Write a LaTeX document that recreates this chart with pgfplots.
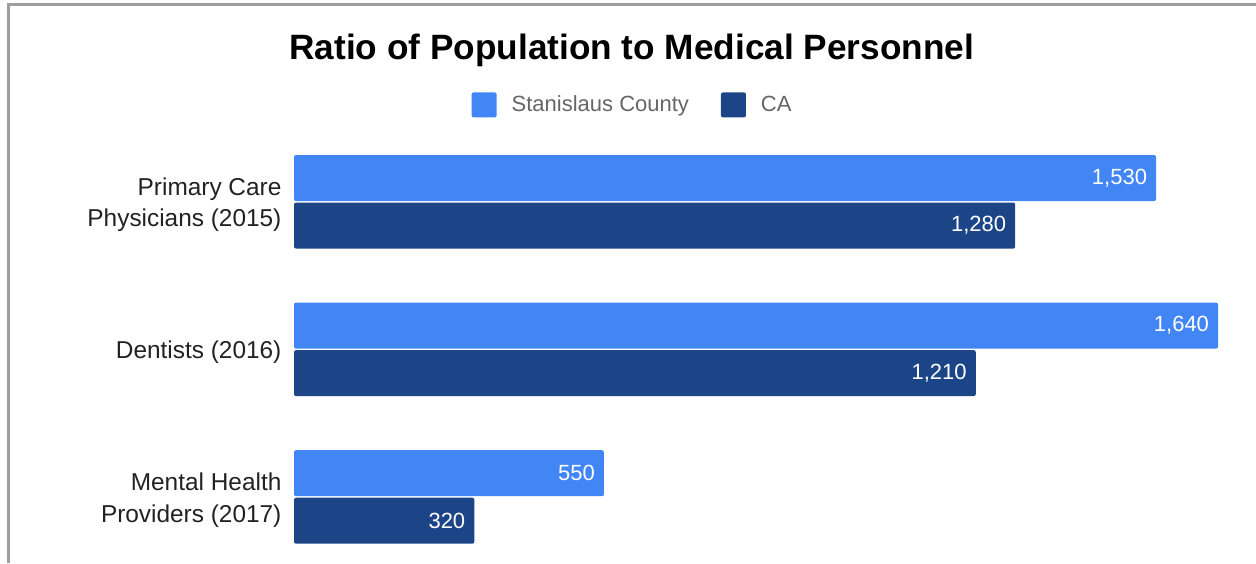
\documentclass[border=0pt]{standalone}
\usepackage{pgfplots}
\pgfplotsset{compat=1.18}
\usepackage{fontspec}
\setmainfont{Liberation Sans}

\definecolor{county}{HTML}{4285F4}
\definecolor{state}{HTML}{1C4587}
\definecolor{legendgray}{HTML}{666666}
\definecolor{framegray}{HTML}{9E9E9E}
\definecolor{labelblack}{HTML}{222222}

\begin{document}
\begin{tikzpicture}
\path[use as bounding box] (0,0) rectangle (628pt,-281.5pt);
\draw[framegray, line width=1.5pt] (4pt,-281.5pt) -- (4pt,-2pt) -- (630pt,-2pt);
\begin{axis}[
  at={(147pt,-64pt)}, anchor=north west,
  scale only axis,
  width=473pt, height=214pt,
  xbar, bar width=23pt,
  xmin=0, xmax=1679,
  ymin=-0.5, ymax=2.4,
  y dir=reverse,
  axis line style={draw=none},
  major tick style={draw=none},
  xtick=\empty,
  ytick={0,1,2},
  yticklabels={{Primary Care\\Physicians (2015)},{Dentists (2016)},{Mental Health\\Providers (2017)}},
  yticklabel style={align=right, text=labelblack, font=\fontsize{12.2}{15.8}\selectfont, xshift=1.5pt, yshift=-1.5pt},
  /pgf/number format/.cd, fixed, precision=0, 1000 sep={,}, assume math mode=true,
  /pgfplots/.cd,
  nodes near coords,
  every node near coord/.append style={anchor=east, xshift=-1pt, text=white, font=\fontsize{11}{13}\selectfont},
  title={Ratio of Population to Medical Personnel},
  title style={at={(0.357,1.154)}, anchor=center, font=\fontsize{17.6}{22}\selectfont\bfseries},
  legend columns=2,
  legend style={draw=none, fill=none, at={(0.359,1.054)}, anchor=center,
    font=\fontsize{11}{13}\selectfont, text=legendgray,
    /tikz/every even column/.append style={column sep=14pt}},
]
\addplot+[fill=county, draw=none, rounded corners=1pt, bar shift=11.875pt,
  legend image code/.code={\fill[county, rounded corners=1pt] (0pt,-6.25pt) rectangle (12.5pt,6.25pt); \path (0pt,0pt) (18pt,0pt);}]
  coordinates {(1530,0) (1640,1) (550,2)};
\addlegendentry{Stanislaus County}
\addplot+[fill=state, draw=none, rounded corners=1pt, bar shift=-11.875pt,
  legend image code/.code={\fill[state, rounded corners=1pt] (0pt,-6.25pt) rectangle (12.5pt,6.25pt); \path (0pt,0pt) (18pt,0pt);}]
  coordinates {(1280,0) (1210,1) (320,2)};
\addlegendentry{CA}
\end{axis}
\end{tikzpicture}
\end{document}
